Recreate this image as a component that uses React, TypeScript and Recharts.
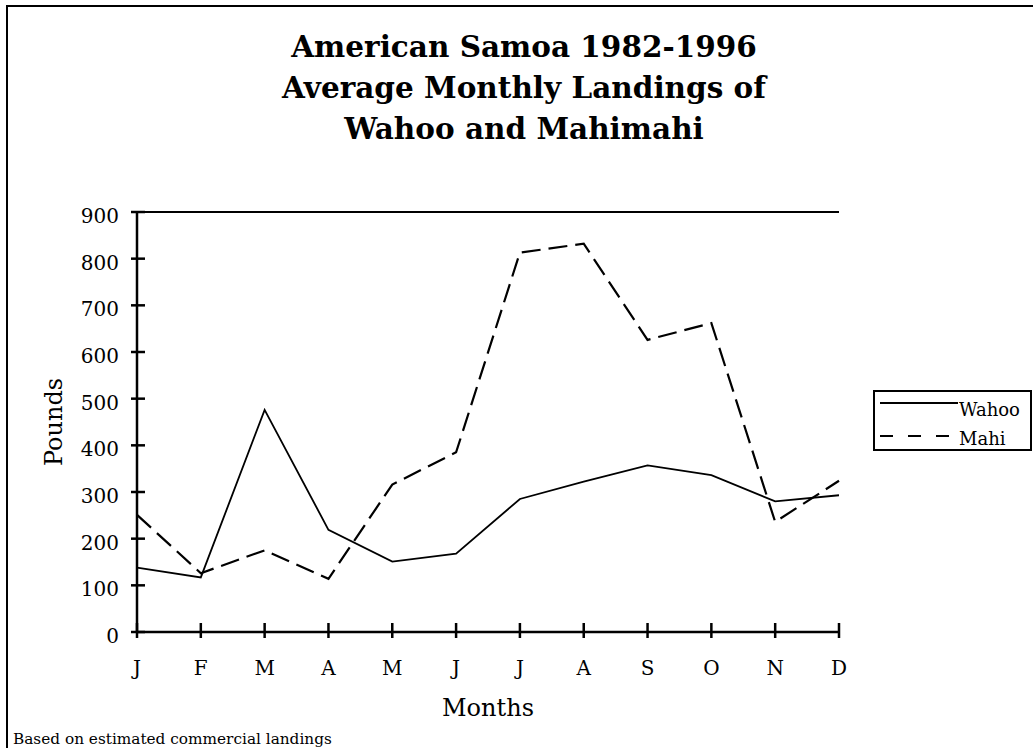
import React from 'react';
import { LineChart, Line, XAxis, YAxis, ReferenceLine, Legend } from 'recharts';

const months = ['J', 'F', 'M', 'A', 'M', 'J', 'J', 'A', 'S', 'O', 'N', 'D'];
const wahoo = [138, 117, 476, 219, 151, 168, 285, 322, 357, 336, 280, 293];
const mahi = [251, 126, 175, 114, 316, 385, 813, 832, 626, 662, 236, 324];
const yTicks = [0, 100, 200, 300, 400, 500, 600, 700, 800, 900];
const titleLines = ['American Samoa 1982-1996', 'Average Monthly Landings of', 'Wahoo and Mahimahi'];
const seriesNames = ['Wahoo', 'Mahi'];

const data = months.map((m, i) => ({ month: m, Wahoo: wahoo[i], Mahi: mahi[i] }));

const FONT = '"DejaVu Serif", serif';

const YTick = (props: any) => {
  const { x, y, payload } = props;
  const ax = x + 10;
  return (
    <g>
      <line x1={ax - 6} x2={ax + 8} y1={y} y2={y} stroke="#000" strokeWidth={2.5} />
      <text x={ax - 18} y={y + 11} textAnchor="end" fontFamily={FONT} fontSize={20} fill="#000">
        {payload.value}
      </text>
    </g>
  );
};

const XTick = (props: any) => {
  const { x, y, payload } = props;
  const ay = y - 10;
  return (
    <g>
      <line x1={x} x2={x} y1={ay - 9} y2={ay + 6} stroke="#000" strokeWidth={2.5} />
      <text x={x} y={ay + 43} textAnchor="middle" fontFamily={FONT} fontSize={20} fill="#000">
        {payload.value}
      </text>
    </g>
  );
};

const LegendBox = () => (
  <svg width={160} height={62} style={{ display: 'block' }}>
    <rect x={1} y={1} width={157} height={59} fill="#fff" stroke="#000" strokeWidth={2} />
    <line x1={7} x2={85} y1={13} y2={13} stroke="#000" strokeWidth={2} />
    <text x={86} y={26} fontFamily={FONT} fontSize={18} fill="#000">{seriesNames[0]}</text>
    <line x1={7} x2={80} y1={46} y2={46} stroke="#000" strokeWidth={2} strokeDasharray="13 15" />
    <text x={86} y={55} fontFamily={FONT} fontSize={18} fill="#000">{seriesNames[1]}</text>
  </svg>
);

export default function App() {
  return (
    <div style={{ position: 'absolute', left: 0, top: 0, width: 1033, height: 748, overflow: 'hidden', background: '#fff' }}>
      <LineChart
        width={1033}
        height={748}
        data={data}
        margin={{ top: 212, right: 194, bottom: 56, left: 77 }}
      >
        <XAxis
          dataKey="month"
          tick={<XTick />}
          tickLine={false}
          tickSize={6}
          tickMargin={4}
          height={60}
          axisLine={{ stroke: '#000', strokeWidth: 2.5 }}
          interval={0}
        />
        <YAxis
          domain={[0, 900]}
          ticks={yTicks}
          tick={<YTick />}
          tickLine={false}
          tickSize={6}
          tickMargin={4}
          width={60}
          axisLine={{ stroke: '#000', strokeWidth: 2.5 }}
          interval={0}
        />
        <ReferenceLine y={900} stroke="#000" strokeWidth={2} />
        <ReferenceLine x="D" stroke="#000" strokeWidth={1.5} />
        <Line
          type="linear"
          dataKey="Wahoo"
          stroke="#000"
          strokeWidth={1.8}
          dot={false}
          isAnimationActive={false}
        />
        <Line
          type="linear"
          dataKey="Mahi"
          stroke="#000"
          strokeWidth={2.2}
          strokeDasharray="19 8"
          dot={false}
          isAnimationActive={false}
        />
        <Legend
          layout="vertical"
          align="center"
          verticalAlign="middle"
          content={<LegendBox />}
          wrapperStyle={{ left: 873, top: 390, width: 160, height: 62 }}
        />
      </LineChart>
      <svg
        width={1033}
        height={748}
        style={{ position: 'absolute', left: 0, top: 0, pointerEvents: 'none' }}
      >
        <rect x={7} y={6} width={1100} height={800} fill="none" stroke="#000" strokeWidth={2} />
        {titleLines.map((t, i) => (
          <text
            key={i}
            x={524}
            y={57 + i * 41}
            textAnchor="middle"
            fontFamily={FONT}
            fontWeight="bold"
            fontSize={29.5}
            fill="#000"
          >
            {t}
          </text>
        ))}
        <text x={62} y={422} transform="rotate(-90 62 422)" textAnchor="middle" fontFamily={FONT} fontSize={24} fill="#000">
          Pounds
        </text>
        <text x={488} y={716} textAnchor="middle" fontFamily={FONT} fontSize={24} fill="#000">
          Months
        </text>
        <text x={13} y={744} fontFamily={FONT} fontSize={15.3} fill="#000">
          Based on estimated commercial landings
        </text>
      </svg>
    </div>
  );
}
